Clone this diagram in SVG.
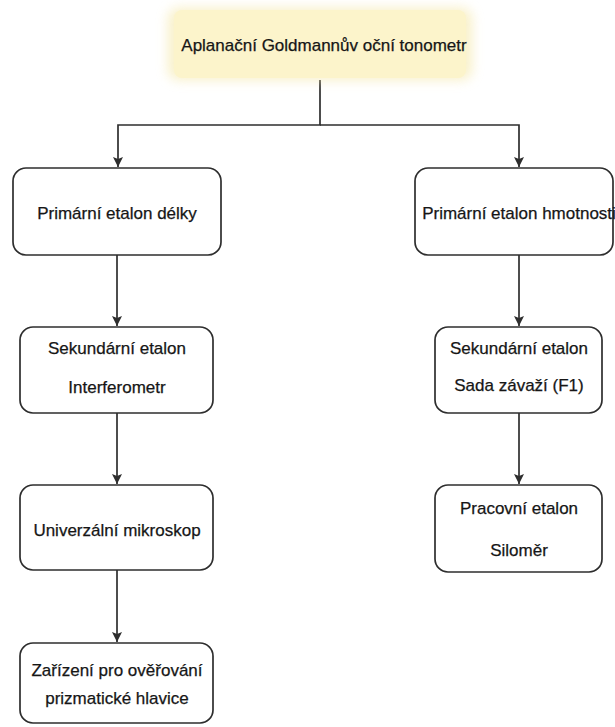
<svg xmlns="http://www.w3.org/2000/svg" width="615" height="727" viewBox="0 0 615 727">
  <style>
    .box { fill: #ffffff; stroke: #2e2e2e; stroke-width: 1.7; }
    .root { fill: #fcf4cb; }
    .label { font-family: "Liberation Sans", Arial, sans-serif; font-size: 17px; fill: #161616; stroke: #161616; stroke-width: 0.25; text-anchor: middle; dominant-baseline: central; }
    .edge { fill: none; stroke: #2e2e2e; stroke-width: 1.7; }
  </style>
  <defs>
    <marker id="arrow" viewBox="0 0 10 10" refX="10" refY="5" markerWidth="10" markerHeight="10" markerUnits="userSpaceOnUse" orient="auto">
      <path d="M0,0 L10,5 L0,10 L2,5 Z" fill="#2e2e2e"/>
    </marker>
    <filter id="glow" x="-20%" y="-40%" width="140%" height="180%">
      <feGaussianBlur stdDeviation="6"/>
    </filter>
  </defs>
  <rect width="615" height="727" fill="#ffffff"/>

  <!-- connectors -->
  <g id="connectors">
    <path class="edge" d="M320,80 V125 H118 V167" marker-end="url(#arrow)"/>
    <path class="edge" d="M320,125 H519 V167" marker-end="url(#arrow)"/>
    <path class="edge" d="M117,255 V326" marker-end="url(#arrow)"/>
    <path class="edge" d="M117,413 V484" marker-end="url(#arrow)"/>
    <path class="edge" d="M117,570 V642" marker-end="url(#arrow)"/>
    <path class="edge" d="M519,255 V326" marker-end="url(#arrow)"/>
    <path class="edge" d="M519,413 V484" marker-end="url(#arrow)"/>
  </g>

  <!-- root node -->
  <g id="node-root">
    <rect x="168" y="8" width="304" height="72" rx="10" fill="#f4e6a4" opacity="0.6" filter="url(#glow)"/>
    <rect class="root" x="174" y="10" width="292" height="68" rx="8"/>
    <text class="label" x="324" y="45">Aplanační Goldmannův oční tonometr</text>
  </g>

  <!-- left branch: length -->
  <g id="node-delka">
    <rect class="box" x="13" y="168" width="208" height="87" rx="13"/>
    <text class="label" x="117" y="213">Primární etalon délky</text>
  </g>
  <g id="node-interferometr">
    <rect class="box" x="20" y="327" width="193" height="86" rx="13"/>
    <text class="label" x="117" y="348">Sekundární etalon</text>
    <text class="label" x="117" y="387">Interferometr</text>
  </g>
  <g id="node-mikroskop">
    <rect class="box" x="20" y="485" width="193" height="85" rx="13"/>
    <text class="label" x="117" y="530">Univerzální mikroskop</text>
  </g>
  <g id="node-zarizeni">
    <rect class="box" x="20" y="643" width="193" height="80" rx="13"/>
    <text class="label" x="117" y="670">Zařízení pro ověřování</text>
    <text class="label" x="117" y="698">prizmatické hlavice</text>
  </g>

  <!-- right branch: mass -->
  <g id="node-hmotnost">
    <rect class="box" x="415" y="168" width="198" height="87" rx="13"/>
    <text class="label" x="519" y="213">Primární etalon hmotnosti</text>
  </g>
  <g id="node-zavazi">
    <rect class="box" x="435" y="327" width="167" height="86" rx="13"/>
    <text class="label" x="519" y="348">Sekundární etalon</text>
    <text class="label" x="519" y="385">Sada závaží (F1)</text>
  </g>
  <g id="node-silomer">
    <rect class="box" x="435" y="485" width="167" height="87" rx="13"/>
    <text class="label" x="519" y="508">Pracovní etalon</text>
    <text class="label" x="519" y="550">Siloměr</text>
  </g>
</svg>
